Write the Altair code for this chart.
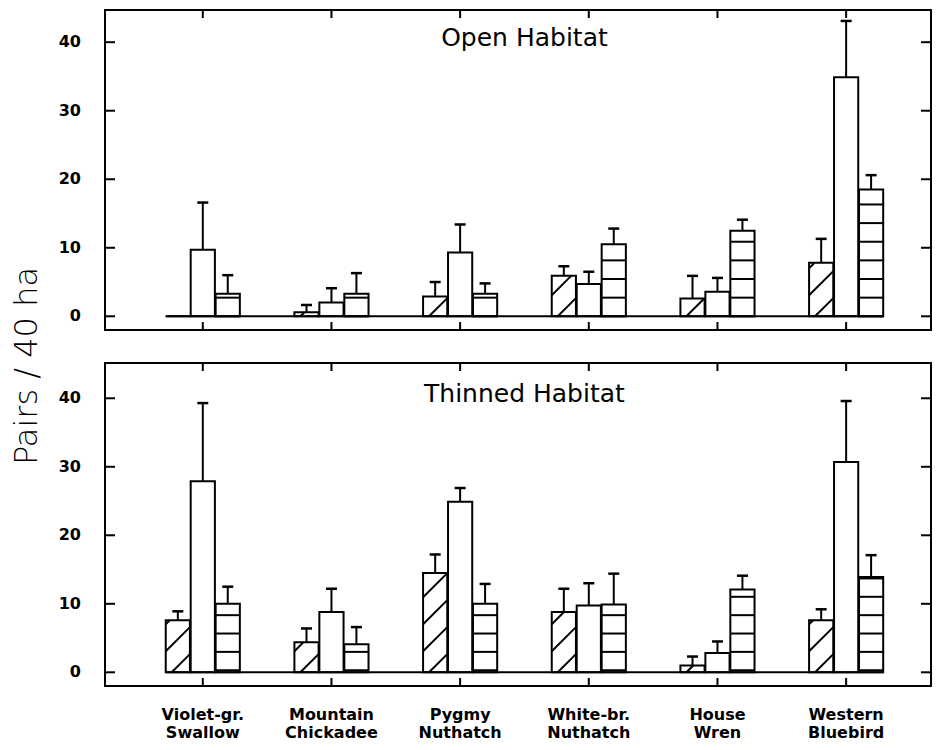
import altair as alt
import pandas as pd
import numpy as np

# ---------------- data ----------------
species = ["Violet-gr.\nSwallow", "Mountain\nChickadee", "Pygmy\nNuthatch",
           "White-br.\nNuthatch", "House\nWren", "Western\nBluebird"]
series_names = ["Diagonal hatch", "Open", "Horizontal lines"]
panel_titles = ["Open Habitat", "Thinned Habitat"]
y_title = "Pairs / 40 ha"
y_ticks = [0, 10, 20, 30, 40]

# Open habitat: means and standard errors
open_hatch = [0.0, 0.6, 2.9, 5.9, 2.6, 7.8]
open_hatch_se = [0.0, 1.05, 2.1, 1.4, 3.3, 3.5]
open_open = [9.7, 2.0, 9.3, 4.7, 3.6, 34.9]
open_open_se = [6.9, 2.1, 4.1, 1.8, 2.0, 8.2]
open_lined = [3.3, 3.3, 3.3, 10.5, 12.5, 18.5]
open_lined_se = [2.7, 3.0, 1.5, 2.3, 1.6, 2.1]

# Thinned habitat: means and standard errors
thin_hatch = [7.6, 4.4, 14.5, 8.8, 1.0, 7.6]
thin_hatch_se = [1.3, 2.0, 2.7, 3.4, 1.3, 1.6]
thin_open = [27.9, 8.8, 24.9, 9.75, 2.8, 30.7]
thin_open_se = [11.4, 3.4, 2.0, 3.25, 1.7, 8.9]
thin_lined = [10.0, 4.1, 10.0, 9.9, 12.1, 13.9]
thin_lined_se = [2.5, 2.5, 2.9, 4.5, 2.0, 3.2]

# ---------------- layout / style ----------------
XMIN = -0.76
PX = 128.67                 # pixels per category step
W = 826
XMAX = XMIN + W / PX
YMIN = -2.0
PY = 6.85                   # pixels per y unit
OFF = 0.194
BW = 0.188
FONT = "DejaVu Sans"
SW = 2

xscale = alt.Scale(domain=[XMIN, XMAX], nice=False, zero=False)


def X(f):
    return alt.X(f, type="quantitative", scale=xscale, axis=None)


def hatch_segments(xl, w, v):
    s = PX / PY          # 45 degree lines in pixel space
    period = 27 / PY
    c0 = -6 / PY
    segs = []
    for k in range(-3, 40):
        c = c0 + k * period
        if c >= v:
            break
        xs = max(0.0, -c / s)
        xe = min(w, (v - c) / s)
        if xe - xs > 1e-6:
            segs.append(dict(x=xl + xs, y=c + s * xs, x2=xl + xe, y2=c + s * xe))
    return segs


def panel(title, means, ses, phase, step, ymax, bottom, ytitle, ytitle_y=0):
    H = round((ymax - YMIN) * PY)
    yscale = alt.Scale(domain=[YMIN, ymax], nice=False, zero=False)

    def Y(f):
        return alt.Y(f, type="quantitative", scale=yscale, axis=None)

    rows = []
    for si, (m, s) in enumerate(zip(means, ses)):
        for i, (v, e) in enumerate(zip(m, s)):
            c = i + (si - 1) * OFF
            rows.append(dict(species=species[i], series=series_names[si], sidx=si,
                             xc=c, xl=c - BW / 2, xr=c + BW / 2,
                             mean=v, top=v + e, se=e,
                             cl=c - 5.5 / PX, cr=c + 5.5 / PX))
    bars = pd.DataFrame(rows)

    hseg = []
    for _, r in bars[bars.sidx == 0].iterrows():
        hseg += hatch_segments(r.xl, BW, r["mean"])
    hseg = pd.DataFrame(hseg)

    lrows = []
    for _, r in bars[bars.sidx == 2].iterrows():
        yv = phase
        while yv < r["mean"] - 0.05:
            lrows.append(dict(x=r.xl, x2=r.xr, y=yv))
            yv += step
    lines = pd.DataFrame(lrows)

    errs = bars[bars.se > 0]

    base = pd.DataFrame({"x": [bars.xl.min()], "x2": [bars.xr.max()], "y": [0.0]})

    trows = []
    for t in y_ticks:
        trows.append(dict(x=XMIN, x2=XMIN + 10 / PX, y=t, y2=t))
        trows.append(dict(x=XMAX - 10 / PX, x2=XMAX, y=t, y2=t))
    for i in range(len(species)):
        trows.append(dict(x=i, x2=i, y=YMIN, y2=YMIN + 8 / PY))
        trows.append(dict(x=i, x2=i, y=ymax - 8 / PY, y2=ymax))
    ticks = pd.DataFrame(trows)

    ylab = pd.DataFrame({"v": y_ticks, "t": [str(t) for t in y_ticks]})

    layers = []
    layers.append(alt.Chart(bars).mark_bar(fill="white", stroke="black", strokeWidth=SW).encode(
        x=X("xl"), x2="xr", y=Y("mean"), y2=alt.Y2(datum=0)))
    layers.append(alt.Chart(ticks).mark_rule(color="black", strokeWidth=SW).encode(
        x=X("x"), x2="x2", y=Y("y"), y2="y2"))
    layers.append(alt.Chart(base).mark_rule(color="black", strokeWidth=SW).encode(
        x=X("x"), x2="x2", y=Y("y")))
    layers.append(alt.Chart(hseg).mark_rule(color="black", strokeWidth=SW).encode(
        x=X("x"), x2="x2", y=Y("y"), y2="y2"))
    layers.append(alt.Chart(lines).mark_rule(color="black", strokeWidth=SW).encode(
        x=X("x"), x2="x2", y=Y("y")))
    layers.append(alt.Chart(errs).mark_rule(color="black", strokeWidth=SW).encode(
        x=X("xc"), y=Y("mean"), y2="top"))
    layers.append(alt.Chart(errs).mark_rule(color="black", strokeWidth=2.5).encode(
        x=X("cl"), x2="cr", y=Y("top")))
    layers.append(alt.Chart(ylab).mark_text(
        font=FONT, fontSize=16, fontWeight="bold", color="black",
        align="right", baseline="middle").encode(
        x=alt.value(-24), y=Y("v"), text="t:N"))
    layers.append(alt.Chart(pd.DataFrame({"t": [title], "x": [2.5], "y": [40.6]})).mark_text(
        font=FONT, fontSize=25, color="black", align="center", baseline="middle").encode(
        x=X("x"), y=Y("y"), text="t:N"))
    if bottom:
        lab = pd.DataFrame({"label": species, "x": list(range(len(species)))})
        layers.append(alt.Chart(lab).mark_text(
            font=FONT, fontSize=16, fontWeight="bold", color="black", lineBreak="\n",
            baseline="top", align="center", lineHeight=18).encode(
            x=X("x"), y=alt.value(H + 21), text="label:N"))
    if ytitle:
        layers.append(alt.Chart(pd.DataFrame({"t": [y_title]})).mark_text(
            font=FONT, fontSize=32, fontWeight=200, color="black", angle=270,
            align="center", baseline="middle").encode(
            x=alt.value(-78), y=alt.value(ytitle_y), text="t:N"))
    return alt.layer(*layers).properties(width=W, height=H)


top = panel(panel_titles[0],
            [open_hatch, open_open, open_lined],
            [open_hatch_se, open_open_se, open_lined_se],
            0.0, 2.72, 44.7, False, True, 356)
bot = panel(panel_titles[1],
            [thin_hatch, thin_open, thin_lined],
            [thin_hatch_se, thin_open_se, thin_lined_se],
            0.3, 2.68, 45.15, True, False)

chart = alt.vconcat(top, bot, spacing=33, bounds="flush").resolve_scale(
    y="independent"
).properties(
    padding={"left": 2, "top": 0, "right": 0, "bottom": 0},
    background="white",
).configure_view(stroke="black", strokeWidth=2)

chart.save("out.html", embed_options={"renderer": "svg", "actions": False})
